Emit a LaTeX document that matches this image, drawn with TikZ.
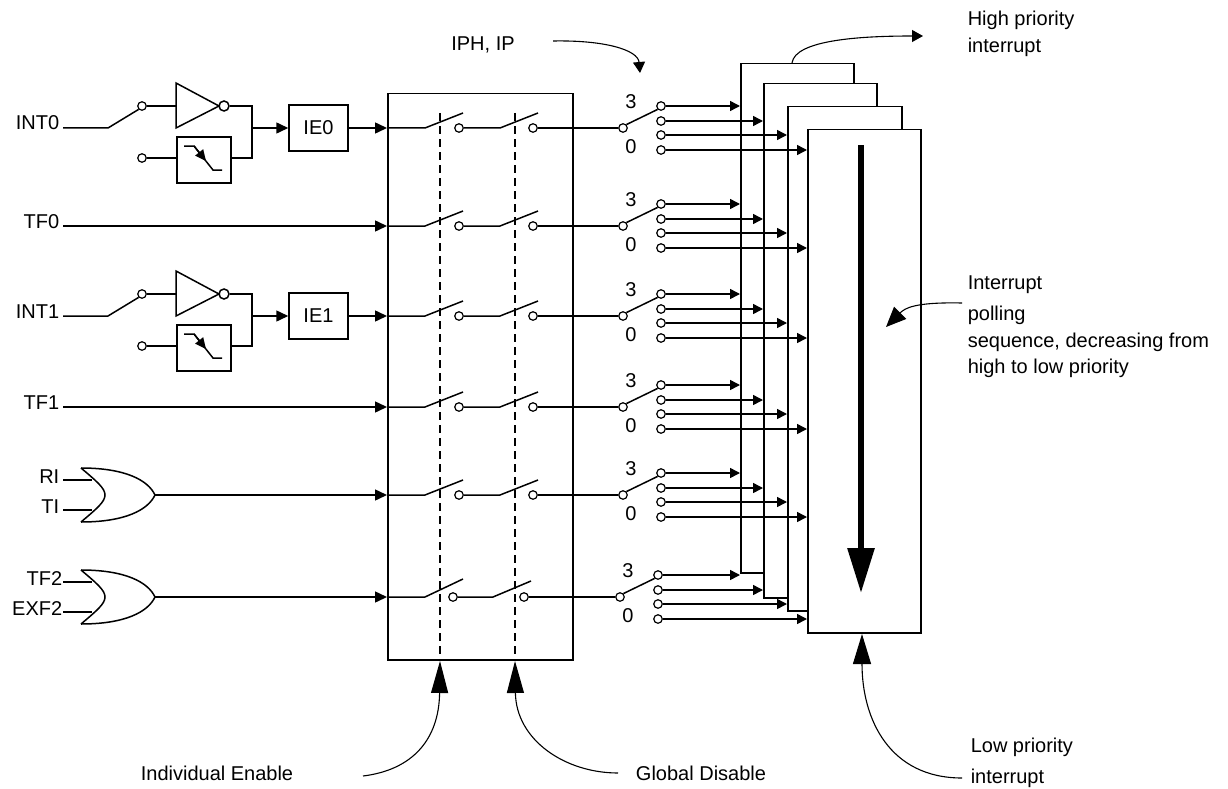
\documentclass[tikz,border=0pt]{standalone}
\usepackage{fontspec}
\setmainfont{Liberation Sans}
\usetikzlibrary{arrows.meta}
\begin{document}
\begin{tikzpicture}[x=1pt,y=-1pt,line width=1.5pt,
  txt/.style={font=\fontsize{20}{24}\selectfont, inner sep=0pt},
  lbl/.style={txt, anchor=base east},
  term/.style={circle, draw, line width=1.2pt, minimum size=8.5pt, inner sep=0pt, fill=white},
  blk/.style={draw, fill=white, anchor=north west, inner sep=0pt},
  arr/.style={-{Triangle[length=12pt,width=11pt]}},
  sarr/.style={-{Triangle[length=10pt,width=10pt]}},
  ann/.style={line width=1.1pt},
  dsh/.style={dash pattern=on 8pt off 5pt}
]
\useasboundingbox (0,0) rectangle (1228,789);

% stacked priority boxes
\node[blk, minimum width=113pt, minimum height=509pt] (b1) at (740,63) {};
\node[blk, minimum width=113pt, minimum height=514pt] (b2) at (763,83) {};
\node[blk, minimum width=114pt, minimum height=504pt] (b3) at (787,106) {};
\node[blk, minimum width=113pt, minimum height=503pt] (b4) at (807,129) {};
\coordinate (pa) at (861,145);
\coordinate (pb) at (861,593);
\draw[line width=6pt, -{Triangle[length=45pt,width=26pt]}] (pa) -- (pb);

% switch box
\node[blk, minimum width=185pt, minimum height=566pt] (swbox) at (387,93) {};
\coordinate (d1t) at (440,113); \coordinate (d1b) at (440,659);
\coordinate (d2t) at (515,113); \coordinate (d2b) at (515,659);
\draw[dsh] (d1t) -- (d1b);
\draw[dsh] (d2t) -- (d2b);

% external interrupt inputs
\foreach \r/\lab/\ie in {128/INT0/IE0,316/INT1/IE1}{
  \node[lbl] (L\ie) at (60,\r+2) {\lab};
  \coordinate (in\ie) at (63,\r);
  \coordinate (k\ie) at (108,\r);
  \node[term] (ta\ie) at (142,\r-22) {};
  \node[term] (tb\ie) at (142,\r+30) {};
  \draw (in\ie) -- (k\ie) -- (ta\ie.225);
  \draw (ta\ie.east) -- (176,\r-22);
  \draw (176,\r-45) -- (219,\r-22) -- (176,\r) -- cycle;
  \node[circle,draw,minimum size=10pt,inner sep=0pt] (bub\ie) at (224,\r-22) {};
  \node[blk, minimum width=54pt, minimum height=46pt] (edge\ie) at (176,\r+8) {};
  \draw (tb\ie.east) -- (176,\r+30);
  \draw (bub\ie.east) -- (252,\r-22) -- (252,\r+30) -- (230,\r+30);
  \draw (184,\r+18) -- (194,\r+18) -- (213,\r+42) -- (222,\r+42);
  \draw[-{Triangle[length=11pt,width=10pt]}] (194,\r+18) -- (206,\r+33);
  \node[draw, txt, minimum width=59pt, minimum height=46pt] (box\ie) at (318.5,\r) {\ie};
  \draw[arr] (252,\r) -- (box\ie.west);
  \draw[arr] (box\ie.east) -- (swbox.west |- box\ie.east);
}

% timer flags
\foreach \r/\lab in {226/TF0,407/TF1}{
  \node[lbl] (L\lab) at (60,\r+2) {\lab};
  \coordinate (in\lab) at (63,\r);
  \draw[arr] (in\lab) -- (swbox.west |- in\lab);
}

% OR gates
\foreach \r/\la/\lb/\g/\lx in {495/RI/TI/or1/60, 597/TF2/EXF2/or2/63}{
  \draw (81,\r-27) .. controls (113,\r) .. (81,\r+27);
  \draw (81,\r-27) .. controls (125,\r-27) and (148,\r-15) .. (155,\r);
  \draw (81,\r+27) .. controls (125,\r+27) and (148,\r+15) .. (155,\r);
  \coordinate (\g) at (155,\r);
  \node[lbl] (L\la) at (\lx,\r-12) {\la};
  \node[lbl] (L\lb) at (\lx,\r+18) {\lb};
  \draw (63,\r-15) -- (92,\r-15);
  \draw (63,\r+15) -- (92,\r+15);
  \draw[arr] (\g) -- (swbox.west |- \g);
}

% enable switches, rows 1-5
\foreach \r/\n in {128/1,226/2,316/3,407/4,495/5}{
  \coordinate (e\n) at (387,\r);
  \draw (e\n) -- (425,\r) -- (463,\r-15);
  \node[term] (sa\n) at (459,\r) {};
  \draw (sa\n.east) -- (500,\r) -- (538,\r-15);
  \node[term] (sb\n) at (533,\r) {};
}
% row 6
\coordinate (e6) at (387,597);
\draw (e6) -- (425,597) -- (463,579);
\node[term] (sa6) at (453,597) {};
\draw (sa6.east) -- (493,597) -- (531,581);
\node[term] (sb6) at (524,597) {};

% priority selector switches
\foreach \r/\n/\px in {128/1/623,226/2/623,316/3/623,407/4/623,495/5/623,597/6/620}{
  \node[term] (p\n) at (\px,\r) {};
  \draw (sb\n.east) -- (p\n.west);
  \node[term] (c\n a) at (\px+38,\r-22) {};
  \node[term] (c\n b) at (\px+38,\r-7) {};
  \node[term] (c\n c) at (\px+38,\r+7) {};
  \node[term] (c\n d) at (\px+38,\r+22) {};
  \draw (p\n.45) -- (c\n a.225);
  \node[txt] (th\n) at (\px+8,\r-26) {3};
  \node[txt] (tl\n) at (\px+8,\r+19) {0};
  \draw[sarr] (c\n a.east) -- (b1.west |- c\n a.east);
  \draw[sarr] (c\n b.east) -- (b2.west |- c\n b.east);
  \draw[sarr] (c\n c.east) -- (b3.west |- c\n c.east);
  \draw[sarr] (c\n d.east) -- (b4.west |- c\n d.east);
}

% annotations
\node[txt] (iph) at (483,45) {IPH, IP};
\coordinate (iphs) at (553,41);
\coordinate (ipht) at (640,73);
\draw[ann, -{Triangle[length=11pt,width=12pt]}] (iphs) .. controls (605,40) and (638,50) .. (ipht);

\node[txt, anchor=west] (hp1) at (967,20) {High priority};
\node[txt, anchor=west] (hp2) at (967,47) {interrupt};
\coordinate (hps) at (792,63);
\coordinate (hpt) at (923,36);
\draw[ann, -{Triangle[length=11pt,width=12pt]}] (hps) .. controls (795,40) and (860,36) .. (hpt);

\node[txt, anchor=west] (ip1) at (967,285) {Interrupt};
\node[txt, anchor=west] (ip2) at (967,315) {polling};
\node[txt, anchor=west] (ip3) at (967,342) {sequence, decreasing from};
\node[txt, anchor=west] (ip4) at (967,368) {high to low priority};
\coordinate (ips) at (962,303);
\coordinate (ipt) at (886,327);
\draw[ann, -{Triangle[length=20pt,width=17pt]}] (ips) .. controls (915,302) and (905,308) .. (ipt);

\node[txt, anchor=west] (lp1) at (970,747) {Low priority};
\node[txt, anchor=west] (lp2) at (970,778) {interrupt};
\coordinate (lps) at (962,778);
\coordinate (lpt) at (862,634);
\draw[ann, -{Triangle[length=30pt,width=18pt]}] (lps) .. controls (890,778) and (862,720) .. (lpt);

\node[txt] (ien) at (217,773) {Individual Enable};
\coordinate (ies) at (363,776);
\coordinate (iet) at (440,661);
\draw[ann, -{Triangle[length=32pt,width=17pt]}] (ies) .. controls (412,770) and (439,740) .. (iet);

\node[txt] (gdis) at (701,773) {Global Disable};
\coordinate (gds) at (618,773);
\coordinate (gdt) at (515,661);
\draw[ann, -{Triangle[length=32pt,width=17pt]}] (gds) .. controls (565,773) and (516,740) .. (gdt);
\end{tikzpicture}
\end{document}
